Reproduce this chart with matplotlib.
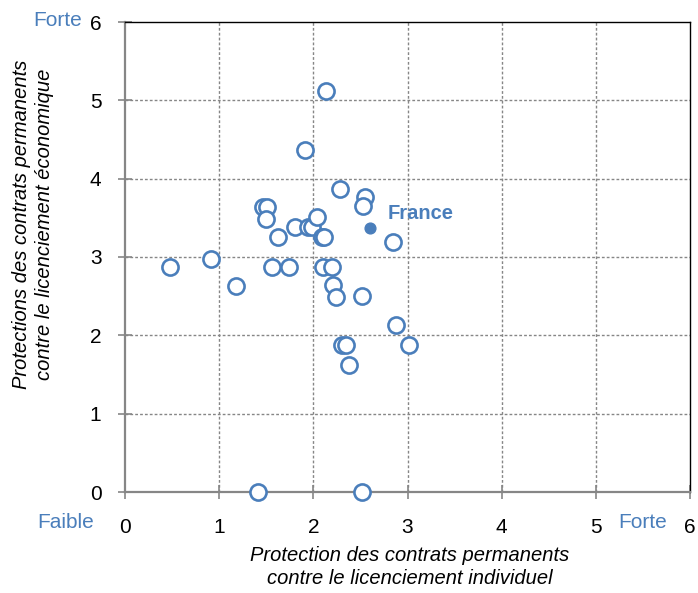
import matplotlib
matplotlib.use("Agg")
import matplotlib.pyplot as plt

# Data: individual dismissal protection (x) vs collective/economic (y)
x_vals = [2.13, 1.91, 2.28, 2.55, 2.53, 2.85, 1.47, 1.51, 1.50, 1.63, 1.81, 1.94,
          1.99, 2.04, 2.09, 2.11, 2.10, 2.20, 2.21, 2.24, 2.52, 2.88, 3.02, 2.30,
          2.35, 2.38, 0.48, 0.91, 1.18, 1.56, 1.74, 1.41, 2.52]
y_vals = [5.12, 4.37, 3.87, 3.77, 3.65, 3.19, 3.64, 3.64, 3.49, 3.26, 3.38, 3.38,
          3.38, 3.51, 3.26, 3.26, 2.87, 2.87, 2.64, 2.49, 2.50, 2.13, 1.88, 1.88,
          1.88, 1.62, 2.87, 2.97, 2.63, 2.87, 2.87, 0.0, 0.0]
france_x = 2.60
france_y = 3.37
ticks = [0, 1, 2, 3, 4, 5, 6]

blue = "#4A7EBB"
gray = "#868686"

plt.rcParams['font.family'] = ['Liberation Sans', 'DejaVu Sans']

fig = plt.figure(figsize=(6.98, 5.93), dpi=100)
ax = fig.add_axes([125/698, 101/593, 565/698, 470/593])
ax.set_xlim(0, 6)
ax.set_ylim(0, 6)

# grid
for v in ticks[1:6]:
    ax.axvline(v, color=gray, lw=1, ls=(0, (2, 1.5)), zorder=1)
    ax.axhline(v, color=gray, lw=1, ls=(0, (2, 1.5)), zorder=1)

ax.scatter(x_vals, y_vals, s=135, facecolors='white', edgecolors=blue,
           linewidths=1.9, zorder=3, clip_on=False)
ax.scatter([france_x], [france_y], s=60, color=blue, zorder=4)
ax.text(france_x + 0.19, france_y + 0.19, "France", color=blue,
        fontsize=14.5, fontweight='bold', va='center', ha='left')

for s in ['left', 'bottom']:
    ax.spines[s].set_color(gray)
    ax.spines[s].set_linewidth(1.6)
for s in ['top', 'right']:
    ax.spines[s].set_color('black')
    ax.spines[s].set_linewidth(1.0)

ax.set_xticks(ticks)
ax.set_yticks(ticks)
ax.set_xticklabels([str(t) for t in ticks], fontsize=15)
ax.set_yticklabels([str(t) for t in ticks], fontsize=15)
ax.tick_params(axis='both', direction='inout', length=10, width=1.2, color=gray,
               pad=12)
ax.tick_params(axis='x', pad=14)

fig.text(410/698, 1 - 567/593,
         "Protection des contrats permanents\ncontre le licenciement individuel",
         fontsize=14.5, style='italic', ha='center', va='center', linespacing=1.25)
fig.text(33/698, 1 - 224/593,
         "Protections des contrats permanents\ncontre le licenciement économique",
         fontsize=14.5, style='italic', ha='center', va='center', rotation=90,
         linespacing=1.25)

fig.text(58/698, 1 - 20/593, "Forte", color=blue, fontsize=15, ha='center', va='center')
fig.text(66/698, 1 - 522/593, "Faible", color=blue, fontsize=15, ha='center', va='center')
fig.text(643/698, 1 - 522/593, "Forte", color=blue, fontsize=15, ha='center', va='center')

fig.savefig("out.png", dpi=100)
